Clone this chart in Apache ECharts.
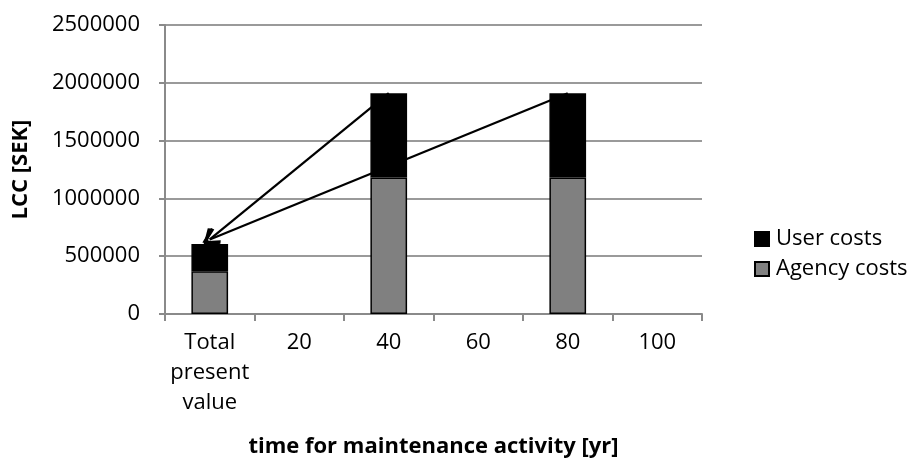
<!DOCTYPE html>
<html>
<head>
<meta charset="utf-8">
<script src="https://cdn.jsdelivr.net/npm/echarts@6/dist/echarts.min.js"></script>
<style>html,body{margin:0;padding:0;background:#fff}#chart{width:913px;height:466px}</style>
</head>
<body>
<div id="chart"></div>
<script>
// ---- data ----
var categories = ['Total present value', '20', '40', '60', '80', '100'];
var agencyCosts = [370000, null, 1180000, null, 1180000, null];
var userCosts   = [235000, null, 730000, null, 730000, null];
var yTicks = [0, 500000, 1000000, 1500000, 2000000, 2500000];
// arrows: from the top of each later bar to the present-value bar
var arrowFrom = ['40', '80'];
var arrowTo = 'Total present value';

function total(cat) {
  var i = categories.indexOf(cat);
  return (agencyCosts[i] || 0) + (userCosts[i] || 0);
}

var FONT = '"Open Sans", sans-serif';
var chart = echarts.init(document.getElementById('chart'));
chart.setOption({
  animation: false,
  textStyle: { fontFamily: FONT },
  grid: { left: 165, right: 211, top: 25, bottom: 152 },
  legend: {
    orient: 'vertical',
    left: 749, top: 223,
    itemWidth: 14, itemHeight: 14, itemGap: 8,
    icon: 'rect',
    data: ['User costs', 'Agency costs'],
    textStyle: { fontFamily: FONT, fontSize: 22, color: '#000', padding: [0,0,0,2] }
  },
  xAxis: {
    type: 'category',
    data: categories,
    name: 'time for maintenance activity [yr]',
    nameLocation: 'middle',
    nameGap: 122,
    nameTextStyle: { fontFamily: FONT, fontSize: 22, fontWeight: 'bold', color: '#000' },
    axisLine: { lineStyle: { color: '#8a8a8a', width: 2 } },
    axisTick: { show: true, interval: 0, length: 7, lineStyle: { color: '#8a8a8a', width: 2 } },
    axisLabel: {
      interval: 0,
      color: '#000', fontSize: 22, margin: 14, lineHeight: 30,
      formatter: function (v) { return v.split(' ').join('\n'); }
    }
  },
  yAxis: {
    type: 'value',
    min: 0, max: 2500000, interval: 500000,
    name: 'LCC [SEK]',
    nameLocation: 'middle',
    nameGap: 133,
    nameTextStyle: { fontFamily: FONT, fontSize: 22, fontWeight: 'bold', color: '#000' },
    axisLine: { show: true, lineStyle: { color: '#8a8a8a', width: 2 } },
    axisTick: { show: true, length: 6, lineStyle: { color: '#8a8a8a', width: 2 } },
    splitLine: { lineStyle: { color: '#9a9a9a', width: 2 } },
    axisLabel: {
      color: '#000', fontSize: 22, margin: 25,
      formatter: function (v) { return yTicks.indexOf(v) >= 0 ? String(v) : ''; }
    }
  },
  series: [
    {
      name: 'Agency costs', type: 'bar', stack: 'cost', barWidth: '41%',
      data: agencyCosts,
      itemStyle: { color: '#808080', borderColor: '#000', borderWidth: 1.5 }
    },
    {
      name: 'User costs', type: 'bar', stack: 'cost', barWidth: '41%',
      data: userCosts,
      itemStyle: { color: '#000', borderColor: '#000', borderWidth: 1.5 },
      markLine: {
        silent: true,
        symbol: ['none', 'path://M0,0 L7,8.5 L5.3,10 L0,3.5 L-5.3,10 L-7,8.5 Z'],
        symbolSize: [20, 16],
        label: { show: false },
        lineStyle: { color: '#000', width: 2.2, type: 'solid' },
        data: arrowFrom.map(function (c) {
          return [
            { coord: [c, total(c)] },
            { coord: [arrowTo, total(arrowTo) + 40000] }
          ];
        })
      }
    }
  ]
});
</script>
</body>
</html>
